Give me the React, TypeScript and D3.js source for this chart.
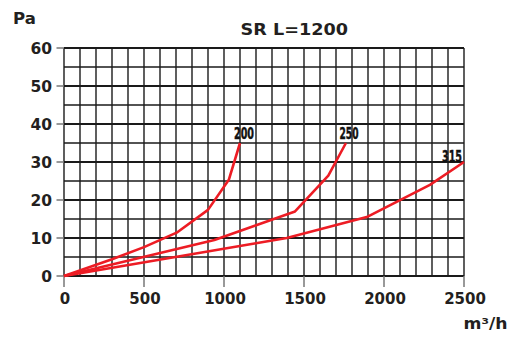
import React from 'react';
import * as d3 from 'd3';

const xTicks = [0, 500, 1000, 1500, 2000, 2500];
const yTicks = [0, 10, 20, 30, 40, 50, 60];

const series200: [number, number][] = [[0, 0], [300, 4.4], [500, 7.6], [704, 11.4], [900, 17.4], [1030, 25.3], [1100, 35]];
const series250: [number, number][] = [[0, 0], [940, 9.5], [1444, 17], [1652, 26.4], [1762, 35]];
const series315: [number, number][] = [[0, 0], [1392, 10], [1892, 15.5], [2287, 24], [2500, 30]];
const curves = [
  { name: '200', data: series200 },
  { name: '250', data: series250 },
  { name: '315', data: series315 },
];

const W = 511;
const H = 338;
const FONT = 'DejaVu Sans, Arial, sans-serif';

const App: React.FC = () => {
  const x = d3.scaleLinear().domain([0, 2500]).range([64, 464]);
  const y = d3.scaleLinear().domain([0, 60]).range([276, 48]);
  const line = d3.line<[number, number]>().x(d => x(d[0])).y(d => y(d[1]));

  const vGrid = d3.range(0, 2501, 100);
  const hGrid = d3.range(0, 61, 5);

  return (
    <svg width={W} height={H} style={{ position: 'absolute', left: 0, top: 0, background: '#fff' }}>
      {/* grid */}
      {vGrid.map(v => (
        <line key={'v' + v} x1={x(v)} x2={x(v)} y1={y(0)} y2={y(60)} stroke="#1a1a1a" strokeWidth={1.4} />
      ))}
      {hGrid.map(v => (
        <line key={'h' + v} x1={x(0)} x2={x(2500)} y1={y(v)} y2={y(v)} stroke="#1a1a1a"
          strokeWidth={v % 10 === 0 ? 2 : 1.4} />
      ))}

      {/* ticks */}
      {yTicks.map(t => (
        <g key={'yt' + t}>
          <line x1={56.5} x2={64} y1={y(t)} y2={y(t)} stroke="#777" strokeWidth={1.5} />
          <text x={52} y={y(t)} dy="0.36em" textAnchor="end" fontFamily={FONT} fontWeight="bold" fontSize={15.5} fill="#231f20">{t}</text>
        </g>
      ))}
      {xTicks.map(t => (
        <g key={'xt' + t}>
          <line x1={x(t)} x2={x(t)} y1={276} y2={287} stroke="#777" strokeWidth={1.5} />
          <text x={x(t) + 1} y={303.5} textAnchor="middle" fontFamily={FONT} fontWeight="bold" fontSize={15} fill="#231f20">{t}</text>
        </g>
      ))}

      {/* curves */}
      {curves.map(c => (
        <path key={c.name} d={line(c.data) || ''} fill="none" stroke="#ed1c24" strokeWidth={2.6} strokeLinejoin="round" />
      ))}

      {/* curve labels */}
      <text x={244} y={138.5} textAnchor="middle" fontFamily={FONT} fontWeight="bold" fontSize={16} textLength={20} lengthAdjust="spacingAndGlyphs" fill="#111" stroke="#111" strokeWidth={0.5}>200</text>
      <text x={349} y={138.5} textAnchor="middle" fontFamily={FONT} fontWeight="bold" fontSize={16} textLength={19} lengthAdjust="spacingAndGlyphs" fill="#111" stroke="#111" strokeWidth={0.5}>250</text>
      <text x={452} y={162} textAnchor="middle" fontFamily={FONT} fontWeight="bold" fontSize={16} textLength={20} lengthAdjust="spacingAndGlyphs" fill="#111" stroke="#111" strokeWidth={0.5}>315</text>

      {/* titles */}
      <text x={240.5} y={35} fontFamily={FONT} fontWeight="bold" fontSize={16.5} textLength={107.5} lengthAdjust="spacingAndGlyphs" fill="#231f20">SR L=1200</text>
      <text x={13} y={24} fontFamily={FONT} fontWeight="bold" fontSize={16.5} fill="#231f20">Pa</text>
      <text x={463.5} y={328.5} fontFamily={FONT} fontWeight="bold" fontSize={15.5} textLength={44} lengthAdjust="spacingAndGlyphs" fill="#231f20">m³/h</text>
    </svg>
  );
};

export default App;
